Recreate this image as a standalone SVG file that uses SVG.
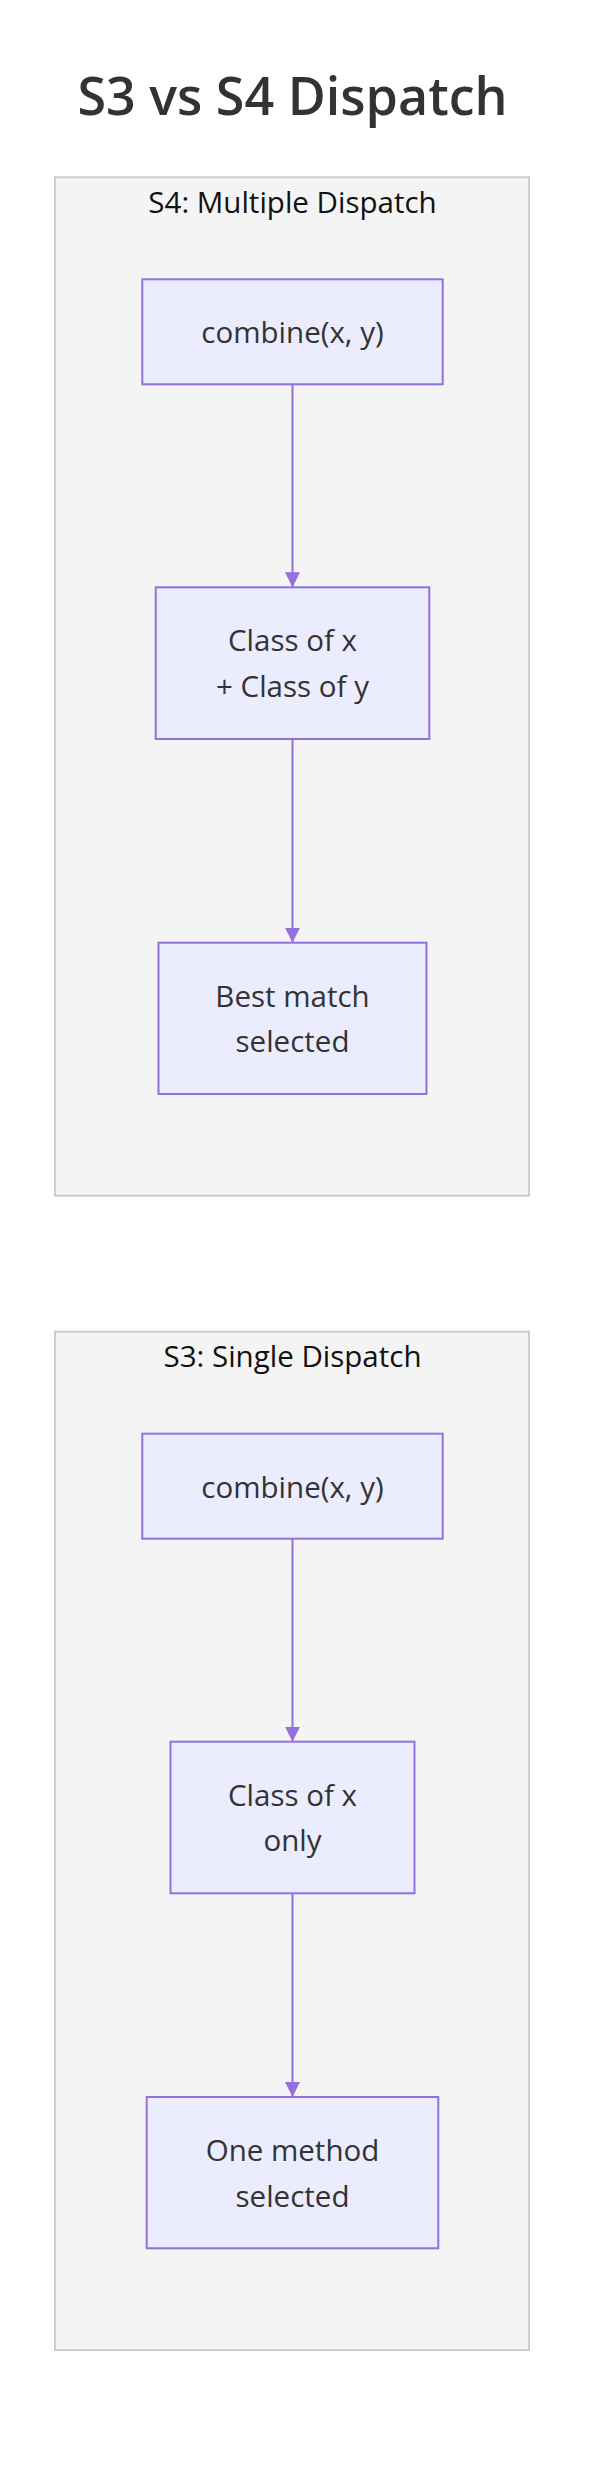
<svg xmlns="http://www.w3.org/2000/svg" width="600" height="2478" viewBox="0 0 600 2478">
<style>
.title{font-family:"Open Sans","Noto Sans",sans-serif;font-size:52px;font-weight:600;fill:#333;text-anchor:middle}
.cluster rect{fill:#f4f4f4;stroke:#cccccc;stroke-width:2}
.clabel{font-family:"Open Sans","Noto Sans",sans-serif;font-size:29.5px;fill:#111;text-anchor:middle}
.node rect{fill:#ececff;stroke:#9370db;stroke-width:2}
.node text{font-family:"Open Sans","Noto Sans",sans-serif;font-size:29.5px;fill:#333;text-anchor:middle}
.edge{stroke:#9370db;stroke-width:2;fill:none}
</style>
<defs>
<marker id="arrow" viewBox="0 0 10 10" refX="10" refY="5" markerWidth="15" markerHeight="16" markerUnits="userSpaceOnUse" orient="auto">
<path d="M0,0 L10,5 L0,10 z" fill="#9370db"/>
</marker>
</defs>
<rect width="600" height="2478" fill="#ffffff"/>
<text class="title" x="292.5" y="115">S3 vs S4 Dispatch</text>

<g id="S4" class="cluster">
<rect x="55" y="177.3" width="474" height="1018.4"/>
<text class="clabel" x="292.5" y="212.7">S4: Multiple Dispatch</text>
</g>
<g id="S3" class="cluster">
<rect x="55" y="1331.7" width="474" height="1018.4"/>
<text class="clabel" x="292.5" y="1367">S3: Single Dispatch</text>
</g>

<g id="connectors">
<line class="edge" x1="292.5" y1="384.3" x2="292.5" y2="587.3" marker-end="url(#arrow)"/>
<line class="edge" x1="292.5" y1="739" x2="292.5" y2="942.7" marker-end="url(#arrow)"/>
<line class="edge" x1="292.5" y1="1538.7" x2="292.5" y2="1741.7" marker-end="url(#arrow)"/>
<line class="edge" x1="292.5" y1="1893.3" x2="292.5" y2="2097" marker-end="url(#arrow)"/>
</g>

<g id="A4" class="node">
<rect x="142.3" y="279.3" width="300.4" height="105"/>
<text x="292.5" y="343">combine(x, y)</text>
</g>
<g id="B4" class="node">
<rect x="155.7" y="587.3" width="273.6" height="151.7"/>
<text x="292.5" y="650.7">Class of x</text>
<text x="292.5" y="696.7">+ Class of y</text>
</g>
<g id="C4" class="node">
<rect x="158.5" y="942.7" width="268" height="151.3"/>
<text x="292.5" y="1006.7">Best match</text>
<text x="292.5" y="1052.3">selected</text>
</g>

<g id="A3" class="node">
<rect x="142.3" y="1433.7" width="300.4" height="105"/>
<text x="292.5" y="1497.7">combine(x, y)</text>
</g>
<g id="B3" class="node">
<rect x="170.5" y="1741.7" width="244" height="151.6"/>
<text x="292.5" y="1805.5">Class of x</text>
<text x="292.5" y="1851.3">only</text>
</g>
<g id="C3" class="node">
<rect x="146.7" y="2097" width="291.6" height="151.3"/>
<text x="292.5" y="2161">One method</text>
<text x="292.5" y="2206.7">selected</text>
</g>
</svg>
